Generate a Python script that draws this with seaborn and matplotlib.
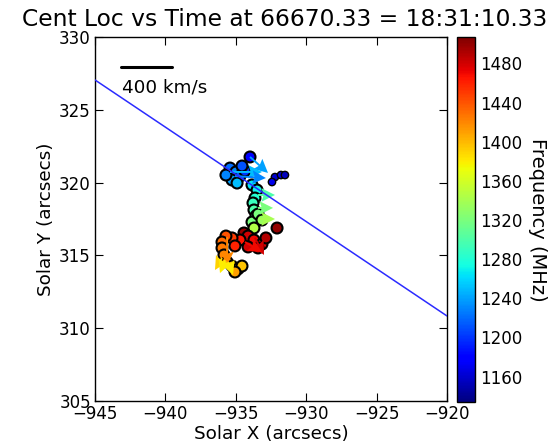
import numpy as np
import pandas as pd
import matplotlib
matplotlib.use("Agg")
import matplotlib.pyplot as plt
import seaborn as sns
from matplotlib.colors import Normalize
from matplotlib.cm import ScalarMappable

# Centroid locations (arcsec) and frequency (MHz) of each burst component
cent_x = [-933.99, -935.41, -934.99, -934.70, -934.35, -935.27, -934.91, -935.70, -934.56,
          -933.85, -933.49, -933.64, -933.78, -933.71, -933.57, -933.85,
          -933.42, -933.14, -933.71,
          -934.42, -934.13, -933.71, -933.14, -932.86, -934.70, -935.27, -935.70,
          -935.98, -935.06, -934.13, -933.42, -932.07,
          -935.98, -935.84, -935.62, -935.27, -934.84, -934.56, -935.06]
cent_y = [321.76, 321.00, 320.73, 320.45, 320.80, 320.18, 319.97, 320.52, 321.14,
          319.84, 319.49, 318.94, 318.60, 318.12, 317.71, 317.29,
          317.84, 317.43, 316.88,
          316.54, 316.33, 316.06, 315.78, 316.20, 316.06, 316.20, 316.33,
          315.92, 315.65, 315.58, 315.51, 316.88,
          315.51, 315.03, 314.55, 314.27, 314.07, 314.27, 313.86]
cent_freq = [1180, 1220, 1230, 1215, 1200, 1240, 1250, 1230, 1210,
             1265, 1270, 1280, 1290, 1300, 1310, 1320,
             1320, 1335, 1345,
             1500, 1480, 1470, 1475, 1490, 1465, 1450, 1440,
             1430, 1460, 1480, 1485, 1500,
             1425, 1420, 1410, 1400, 1405, 1395, 1410]

# Faint outlying components east of the main track
side_x = [-932.22, -931.79, -931.51, -932.43]
side_y = [320.38, 320.52, 320.52, 320.04]
side_freq = [1160, 1165, 1155, 1170]

# Velocity vectors (km/s) of the centroid motion
arr_x = [-933.99, -935.41, -935.06, -933.42, -933.42, -933.28,
         -933.64, -934.35, -935.62, -935.98, -935.77, -935.55]
arr_y = [321.76, 320.73, 320.45, 319.15, 318.26, 317.50,
         316.20, 315.92, 316.26, 314.82, 314.68, 314.55]
arr_vx = [141, 251, 243, 133, 118, 118, 71, 133, 0, -55, -39, 39]
arr_vy = [-121, 0, -15, 0, 0, 0, -129, -76, -213, -91, -99, -99]
arr_freq = [1240, 1250, 1230, 1300, 1320, 1340, 1480, 1470, 1420, 1390, 1380, 1380]

# Limb fit line endpoints
limb_x = [-945, -920]
limb_y = [327.05, 310.84]

fmin, fmax = 1134, 1507
scale_kms = 400

sns.set_style("ticks")
plt.rcParams.update({
    "font.family": ["DejaVu Sans"],
    "text.color": "black", "axes.labelcolor": "black",
    "xtick.color": "black", "ytick.color": "black",
    "axes.edgecolor": "black",
    "xtick.direction": "in", "ytick.direction": "in",
    "xtick.top": True, "ytick.right": True,
    "xtick.major.size": 6, "ytick.major.size": 6,
    "axes.linewidth": 1.0,
})

fig = plt.figure(figsize=(5.54, 4.47), dpi=100)
ax = fig.add_axes([95/554, 1-401/447, 352/554, 364/447])
cax = fig.add_axes([457/554, 1-402/447, 18/554, 365/447])

norm = Normalize(fmin, fmax)
cmap = matplotlib.colormaps["jet"]

ax.plot(limb_x, limb_y, color="#2b2bff", lw=1.1, zorder=5)

main = pd.DataFrame({"x": cent_x, "y": cent_y, "freq": cent_freq})
side = pd.DataFrame({"x": side_x, "y": side_y, "freq": side_freq})
sns.scatterplot(data=main, x="x", y="y", hue="freq", palette=cmap, hue_norm=norm,
                s=62, edgecolor="black", linewidth=1.5, legend=False, ax=ax, zorder=3)
sns.scatterplot(data=side, x="x", y="y", hue="freq", palette=cmap, hue_norm=norm,
                s=28, edgecolor="black", linewidth=1.0, legend=False, ax=ax, zorder=3)

kms_per_arcsec = scale_kms / 3.62
ax.quiver(arr_x, arr_y, arr_vx, arr_vy, arr_freq, cmap=cmap, norm=norm,
          angles="xy", scale_units="xy", scale=kms_per_arcsec,
          width=0.0055, headwidth=7, headlength=7, headaxislength=6, zorder=4)

# velocity scale bar
ax.plot([0.074, 0.219], [0.918, 0.918], color="black", lw=2.2, transform=ax.transAxes)
ax.text(0.076, 0.86, f"{scale_kms} km/s", transform=ax.transAxes, fontsize=13.2,
        ha="left", va="center")

ax.set_xlim(-945, -920)
ax.set_ylim(305, 330)
ax.set_xticks(np.arange(-945, -919, 5))
ax.set_yticks(np.arange(305, 331, 5))
ax.tick_params(labelsize=12, pad=3)
ax.set_xlabel("Solar X (arcsecs)", fontsize=13.2, labelpad=1)
ax.set_ylabel("Solar Y (arcsecs)", fontsize=13.2, labelpad=3)

sm = ScalarMappable(norm=norm, cmap=cmap)
cb = fig.colorbar(sm, cax=cax)
cb.set_ticks(np.arange(1160, 1481, 40))
cb.ax.tick_params(labelsize=12, direction="in", length=6)
cb.outline.set_edgecolor("black")
cb.set_label("Frequency (MHz)", fontsize=14, rotation=270, labelpad=18)

fig.text(285/554, 1-20/447, "Cent Loc vs Time at 66670.33 = 18:31:10.33",
         fontsize=16.8, ha="center", va="center")

fig.savefig("out.png", dpi=100)
